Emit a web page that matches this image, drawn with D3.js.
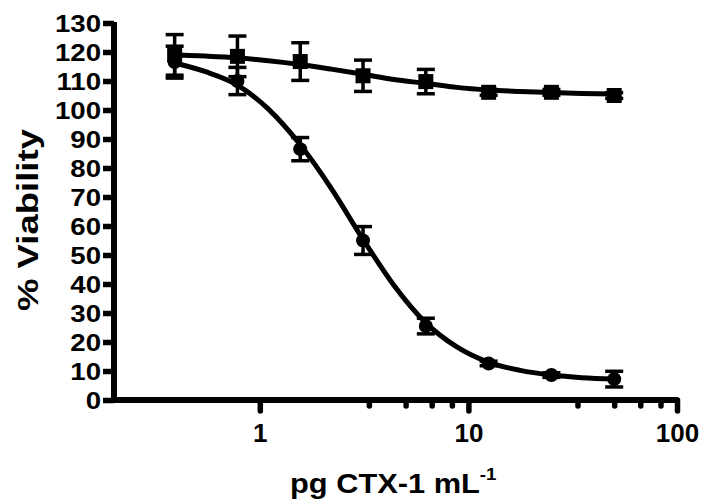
<!DOCTYPE html>
<html>
<head>
<meta charset="utf-8">
<script src="https://cdn.jsdelivr.net/npm/d3@7"></script>
<style>
  body { margin: 0; background: #fff; }
  svg text { font-family: "Liberation Sans", Arial, sans-serif; font-weight: bold; fill: #000; }
</style>
</head>
<body>
<svg id="chart" width="701" height="500"></svg>
<script>
// doses (pg CTX-1 / mL), two-fold dilution series
const doses = [0.390625, 0.78125, 1.5625, 3.125, 6.25, 12.5, 25, 50];

// circles: falling curve
const circleMean = [116.5, 110, 86.5, 55, 25.5, 12.6, 8.6, 7.2];
const circleErr  = [5.5, 4.7, 4, 4.8, 2.7, 0.8, 0.8, 2.7];

// squares: nearly flat curve
const squareMean = [119, 118.5, 116.7, 111.8, 109.8, 106.1, 106.1, 105];
const squareErr  = [7, 7, 6.5, 5.4, 4.2, 1, 1, 1];

// fitted curves
const curveX      = [0.390625, 0.55, 0.78125, 1.1, 1.5625, 2.2, 3.125, 4.4, 6.25, 8.8, 12.5, 17.7, 25, 35, 50];
const circleCurve = [116.2, 113.2, 108.6, 100.3, 88.0, 73.0, 55.4, 39.5, 26.6, 18.3, 13.0, 10.2, 8.6, 7.7, 7.2];
const squareCurve = [119.0, 118.6, 118.0, 117.0, 115.7, 114.1, 112.3, 110.5, 109.2, 107.8, 106.9, 106.4, 106.0, 105.7, 105.5];

const yTicks = d3.range(0, 131, 10);
const xMajor = [1, 10, 100];
const xMinor = [3.333, 5, 6.667, 8.333, 33.33, 50, 66.67, 83.33];

const svg = d3.select("#chart");

const x = d3.scaleLog().domain([0.2, 100]).range([114, 677]);
const y = d3.scaleLinear().domain([0, 130]).range([400, 23]);

// y axis
const yAxis = svg.append("g")
  .attr("transform", "translate(114,0)")
  .call(d3.axisLeft(y).tickValues(yTicks).tickSize(11).tickSizeOuter(0).tickFormat(d3.format("d")));
yAxis.select(".domain").attr("stroke", "#000").attr("stroke-width", 6).attr("d", "M0,22V403");
yAxis.selectAll(".tick line").attr("stroke", "#000").attr("stroke-width", 5.5);
yAxis.selectAll(".tick text")
  .attr("x", -13 / 1.15)
  .attr("dy", "0.36em")
  .attr("transform", "scale(1.15,1)")
  .style("font-size", "24px");

// x axis
const xAxis = svg.append("g")
  .attr("transform", "translate(0,400)")
  .call(d3.axisBottom(x).tickValues(xMajor).tickSize(13).tickSizeOuter(0).tickFormat(d3.format("d")));
xAxis.select(".domain").attr("stroke", "#000").attr("stroke-width", 6).attr("d", "M111,0H678");
xAxis.selectAll(".tick line").attr("stroke", "#000").attr("stroke-width", 5.5).attr("stroke-linecap", "round").attr("y2", 11);
xAxis.selectAll(".tick text").attr("y", 24).attr("dy", "0.71em").style("font-size", "26px");

const xAxisMinor = svg.append("g")
  .attr("transform", "translate(0,400)")
  .call(d3.axisBottom(x).tickValues(xMinor).tickSize(6).tickSizeOuter(0).tickFormat(""));
xAxisMinor.select(".domain").remove();
xAxisMinor.selectAll(".tick line").attr("stroke", "#000").attr("stroke-width", 5.5).attr("stroke-linecap", "round");

// axis titles
svg.append("text")
  .attr("transform", "translate(38,220) rotate(-90)")
  .attr("text-anchor", "middle")
  .attr("textLength", 182)
  .attr("lengthAdjust", "spacingAndGlyphs")
  .style("font-size", "30px")
  .text("% Viability");

const xt = svg.append("text")
  .attr("transform", "translate(290,493) scale(1.1,1)")
  .style("font-size", "28px");
xt.append("tspan").text("pg CTX-1 mL");
xt.append("tspan").attr("dy", -13).style("font-size", "17px").text("-1");

// curves
const line = d3.line().x(d => x(d[0])).y(d => y(d[1])).curve(d3.curveMonotoneX);
[circleCurve, squareCurve].forEach(c => {
  svg.append("path")
    .datum(curveX.map((v, i) => [v, c[i]]))
    .attr("fill", "none")
    .attr("stroke", "#000")
    .attr("stroke-width", 5)
    .attr("d", line);
});

// error bars
function errorBars(mean, err) {
  const g = svg.append("g").attr("stroke", "#000").attr("stroke-width", 3.5);
  doses.forEach((d, i) => {
    const cx = x(d), top = y(mean[i] + err[i]), bot = y(mean[i] - err[i]);
    g.append("line").attr("x1", cx).attr("x2", cx).attr("y1", top).attr("y2", bot);
    g.append("line").attr("x1", cx - 9).attr("x2", cx + 9).attr("y1", top).attr("y2", top);
    g.append("line").attr("x1", cx - 9).attr("x2", cx + 9).attr("y1", bot).attr("y2", bot);
  });
}
errorBars(squareMean, squareErr);
errorBars(circleMean, circleErr);

// markers
svg.append("g").selectAll("rect")
  .data(doses)
  .join("rect")
  .attr("x", (d) => x(d) - 7.5)
  .attr("y", (d, i) => y(squareMean[i]) - 7.5)
  .attr("width", 15)
  .attr("height", 15)
  .attr("fill", "#000");

svg.append("g").selectAll("circle")
  .data(doses)
  .join("circle")
  .attr("cx", (d) => x(d))
  .attr("cy", (d, i) => y(circleMean[i]))
  .attr("r", 7)
  .attr("fill", "#000");
</script>
</body>
</html>
